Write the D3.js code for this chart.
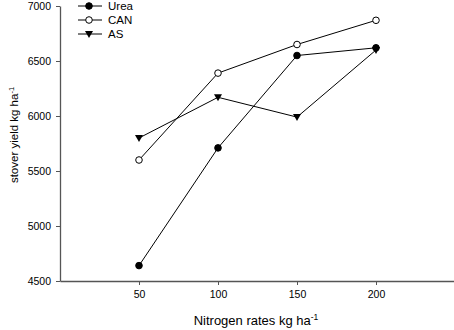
<!DOCTYPE html>
<html>
<head>
<meta charset="utf-8">
<script src="https://cdn.jsdelivr.net/npm/d3@7"></script>
<style>
  body { margin: 0; background: #fff; }
  svg { display: block; font-family: "Liberation Sans", Arial, sans-serif; }
</style>
</head>
<body>
<div id="chart"></div>
<script>
// nitrogen rates (x) and stover yield per fertilizer type
const rates = [50, 100, 150, 200];
const urea = [4640, 5710, 6550, 6620];
const can = [5600, 6390, 6650, 6870];
const as = [5800, 6170, 5990, 6600];
const xTicks = [50, 100, 150, 200];
const yTicks = [4500, 5000, 5500, 6000, 6500, 7000];

const width = 454, height = 330;

const svg = d3.select("#chart").append("svg")
    .attr("width", width)
    .attr("height", height);

const x = d3.scaleLinear().domain([0, 250]).range([60, 455]);
const y = d3.scaleLinear().domain([4500, 7000]).range([281, 6]);

// axes
const xAxis = svg.append("g")
    .attr("transform", `translate(0,${y(4500)})`)
    .call(d3.axisBottom(x).tickValues(xTicks).tickFormat(d3.format("d"))
        .tickSize(4).tickPadding(6).tickSizeOuter(0));
const yAxis = svg.append("g")
    .attr("transform", `translate(${x(0)},0)`)
    .call(d3.axisLeft(y).tickValues(yTicks).tickFormat(d3.format("d"))
        .tickSize(4).tickPadding(5).tickSizeOuter(0));

[xAxis, yAxis].forEach(a => {
    a.select(".domain").attr("stroke", "#555").attr("stroke-width", 1.3);
    a.selectAll(".tick line").attr("stroke", "#555");
    a.selectAll(".tick text")
        .attr("fill", "#000")
        .style("font-family", "Liberation Sans, Arial, sans-serif")
        .style("font-size", "10.5px");
});

// axis titles
const xt = svg.append("text")
    .attr("x", 256)
    .attr("y", 325)
    .attr("text-anchor", "middle")
    .style("font-size", "13px");
xt.append("tspan").text("Nitrogen rates kg ha");
xt.append("tspan").attr("dy", -5).style("font-size", "8.5px").text("-1");

const yt = svg.append("text")
    .attr("transform", "translate(18,135) rotate(-90)")
    .attr("text-anchor", "middle")
    .style("font-size", "11.5px");
yt.append("tspan").text("stover yield kg ha");
yt.append("tspan").attr("dy", -4.5).style("font-size", "7.5px").text("-1");

const line = d3.line()
    .x((d, i) => x(rates[i]))
    .y(d => y(d));

const series = [
    { name: "Urea", values: urea, marker: "filled" },
    { name: "CAN", values: can, marker: "open" },
    { name: "AS", values: as, marker: "tri" }
];

const triPath = r => `M${-r},${-r * 0.75}L${r},${-r * 0.75}L0,${r}Z`;

function drawMarker(g, kind, cx, cy) {
    if (kind === "tri") {
        g.append("path")
            .attr("d", triPath(4))
            .attr("transform", `translate(${cx},${cy})`)
            .attr("fill", "#000");
    } else {
        g.append("circle")
            .attr("cx", cx)
            .attr("cy", cy)
            .attr("r", 3.3)
            .attr("fill", kind === "filled" ? "#000" : "#fff")
            .attr("stroke", "#000")
            .attr("stroke-width", 1);
    }
}

// draw in reverse so Urea sits on top
series.slice().reverse().forEach(s => {
    const g = svg.append("g");
    g.append("path")
        .datum(s.values)
        .attr("d", line)
        .attr("fill", "none")
        .attr("stroke", "#000")
        .attr("stroke-width", 1);
    s.values.forEach((v, i) => drawMarker(g, s.marker, x(rates[i]), y(v)));
});

// legend
const legend = svg.append("g").attr("class", "legend");
series.forEach((s, i) => {
    const ly = 6 + i * 14;
    legend.append("line")
        .attr("x1", 78).attr("x2", 102)
        .attr("y1", ly).attr("y2", ly)
        .attr("stroke", "#000");
    drawMarker(legend, s.marker, 89, ly);
    legend.append("text")
        .attr("x", 108)
        .attr("y", ly + 4)
        .style("font-size", "11.5px")
        .text(s.name);
});
</script>
</body>
</html>
